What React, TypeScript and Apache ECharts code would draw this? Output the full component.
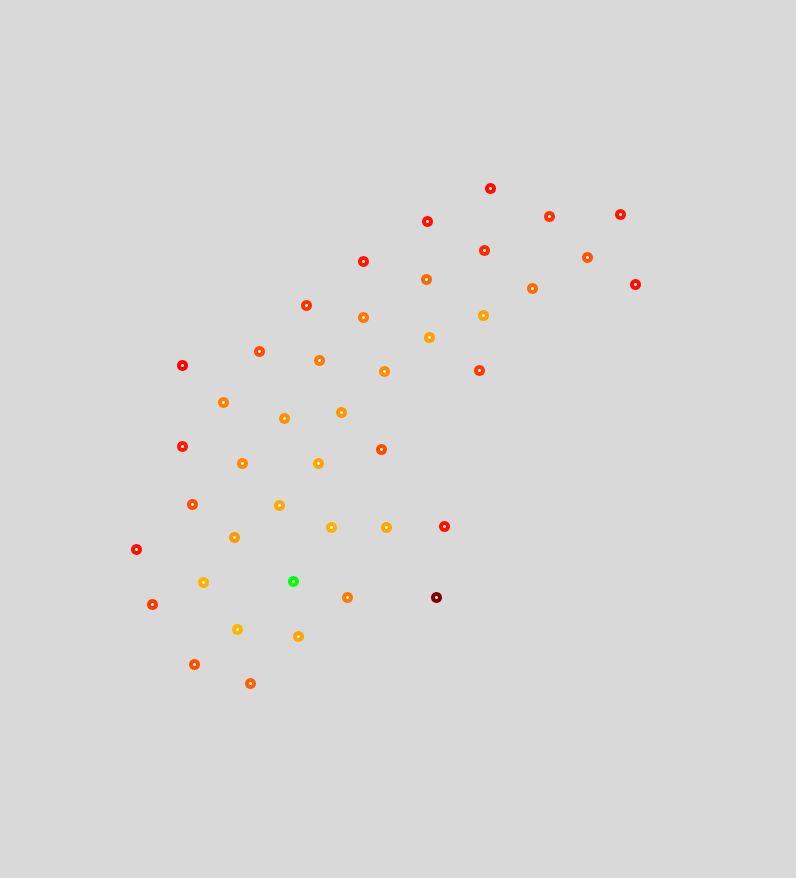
import React, { useEffect, useRef } from "react";
import * as echarts from "echarts";

// Point positions (horizontal, vertical) and readings
const xs = [490, 427, 549, 620, 484, 363, 587, 426, 635, 532, 306, 363, 483, 429, 259, 319, 182, 384, 479, 223, 284, 341, 182, 242, 318, 381, 192, 279, 234, 331, 386, 444, 136, 203, 293, 347, 436, 152, 237, 298, 194, 250];
const ys = [188, 221, 216, 214, 250, 261, 257, 279, 284, 288, 305, 317, 315, 337, 351, 360, 365, 371, 370, 402, 418, 412, 446, 463, 463, 449, 504, 505, 537, 527, 527, 526, 549, 582, 581, 597, 597, 604, 629, 636, 664, 683];
const vals = [19.4, 19.1, 17.2, 18.8, 17.7, 18.6, 15.3, 14.3, 19.3, 14.1, 17.2, 13.4, 11.1, 11.1, 15.9, 13.2, 20, 12.2, 16.8, 12.9, 12, 11.7, 18.6, 12.4, 10.8, 15.9, 15.6, 10.6, 11.5, 10.2, 10.8, 19.1, 19.1, 10.2, 0, 13.2, 30, 16.8, 10, 10.8, 15.6, 14.7];

export default function App() {
  const ref = useRef<HTMLDivElement>(null);
  useEffect(() => {
    if (!ref.current) return;
    const chart = echarts.init(ref.current, null, { renderer: "svg" });
    const data = xs.map((x, i) => [x, ys[i], vals[i]]);
    chart.setOption({
      animation: false,
      backgroundColor: "#d9d9d9",
      grid: { left: 0, right: 0, top: 0, bottom: 0 },
      xAxis: { type: "value", min: -0.5, max: 795.5, show: false },
      yAxis: { type: "value", min: -0.5, max: 877.5, inverse: true, show: false },
      visualMap: {
        show: false,
        type: "continuous",
        dimension: 2,
        seriesIndex: 0,
        min: 0,
        max: 30,
        inRange: { color: ["#00ff00", "#ffb400", "#ff0000", "#800000"] },
      },
      series: [
        {
          type: "scatter",
          data,
          symbol: "circle",
          symbolSize: 11,
          itemStyle: { opacity: 1 },
        },
        {
          type: "scatter",
          data,
          symbol: "circle",
          symbolSize: 3,
          itemStyle: { color: "#ffffff", opacity: 1 },
        },
      ],
    });
    return () => chart.dispose();
  }, []);
  return (
    <div
      ref={ref}
      style={{ position: "fixed", left: 0, top: 0, width: 796, height: 878 }}
    />
  );
}
